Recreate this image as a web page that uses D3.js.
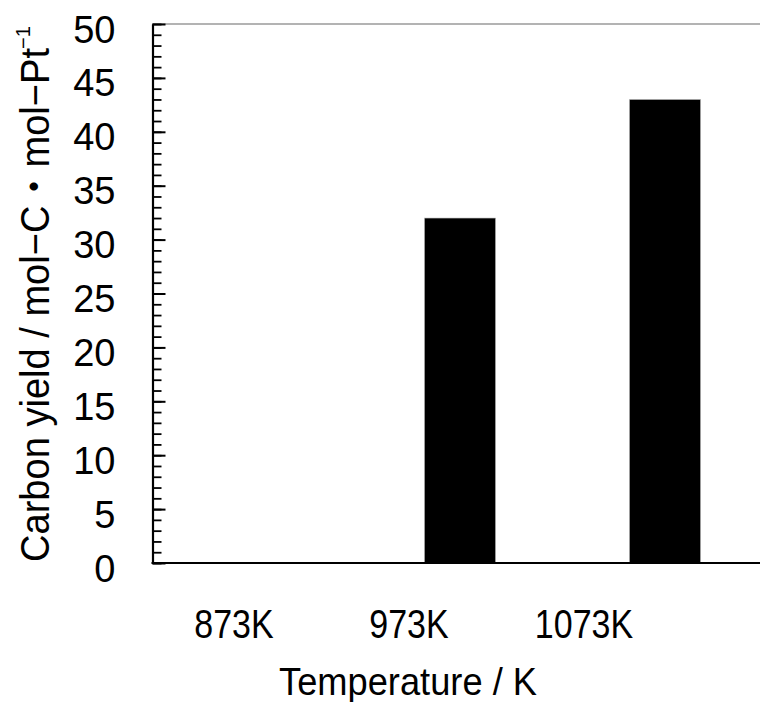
<!DOCTYPE html>
<html>
<head>
<meta charset="utf-8">
<script src="https://cdn.jsdelivr.net/npm/d3@7"></script>
<style>
  html, body { margin: 0; padding: 0; background: #fff; }
  svg { display: block; }
  text { font-family: "Liberation Sans", Arial, "Noto Sans CJK JP", sans-serif; fill: #000; }
</style>
</head>
<body>
<svg id="chart" width="760" height="702"></svg>
<script>
// Carbon yield per mol of Pt at each reaction temperature
const categories = ["873K", "973K", "1073K"];
const carbonYield = [0, 32, 43];
const yTicks = [0, 5, 10, 15, 20, 25, 30, 35, 40, 45, 50];
const yMinorTicks = d3.range(0, 51, 1);
const xTitle = "Temperature / K";
const yTitleMain = "Carbon yield / mol\u2212C\u30FBmol\u2212Pt";
const yTitleSup = "\u22121";

const svg = d3.select("#chart");
const plot = { left: 152.5, right: 767.5, top: 24, bottom: 563 };

const x = d3.scaleBand()
  .domain(categories)
  .range([plot.left, plot.right])
  .paddingInner(0.653)
  .paddingOuter(0.3265);

// category labels sit on their own evenly spaced positions
const xLabel = d3.scalePoint()
  .domain(categories)
  .range([234, 584]);

const y = d3.scaleLinear().domain([0, 50]).range([plot.bottom, plot.top]);

// frame top line
svg.append("line")
  .attr("x1", plot.left).attr("x2", 760)
  .attr("y1", y(50)).attr("y2", y(50))
  .attr("stroke", "#9a9a9a").attr("stroke-width", 1.3);

// bars
svg.append("g").selectAll("rect")
  .data(categories.map((c, i) => ({ c, v: carbonYield[i] })))
  .join("rect")
  .attr("x", d => x(d.c))
  .attr("width", x.bandwidth())
  .attr("y", d => y(d.v))
  .attr("height", d => y(0) - y(d.v))
  .attr("fill", "#000")
  .attr("stroke", "#bbb")
  .attr("stroke-width", 0.6);

// minor ticks
svg.append("g")
  .attr("transform", `translate(${plot.left},0)`)
  .call(d3.axisLeft(y).tickValues(yMinorTicks).tickSize(-9).tickFormat(""))
  .call(g => g.select(".domain").remove())
  .call(g => g.selectAll(".tick line").attr("stroke", "#000").attr("stroke-width", 1.8));

// major ticks, labels and axis line
const yAxis = svg.append("g")
  .attr("transform", `translate(${plot.left},0)`)
  .call(d3.axisLeft(y).tickValues(yTicks).tickSize(-13).tickSizeOuter(0).tickPadding(0));
yAxis.select(".domain").attr("stroke", "#000").attr("stroke-width", 2.2);
yAxis.selectAll(".tick line").attr("stroke", "#000").attr("stroke-width", 2);
yAxis.selectAll(".tick text")
  .attr("x", -37)
  .attr("dy", null)
  .attr("y", 18)
  .style("font-size", "38px")
  .style("font-family", "'Liberation Sans', Arial, sans-serif")
  .attr("fill", "#000");

// bottom axis line
svg.append("line")
  .attr("x1", plot.left - 1).attr("x2", 760)
  .attr("y1", y(0)).attr("y2", y(0))
  .attr("stroke", "#000").attr("stroke-width", 2.2);

// category labels
svg.append("g").selectAll("text")
  .data(categories)
  .join("text")
  .attr("transform", d => `translate(${xLabel(d)},638) scale(0.85,1)`)
  .attr("text-anchor", "middle")
  .style("font-size", "40px")
  .text(d => d);

// x axis title
svg.append("text")
  .attr("transform", "translate(408,695) scale(0.93,1)")
  .attr("text-anchor", "middle")
  .style("font-size", "39px")
  .text(xTitle);

// y axis title (main text plus superscript exponent)
svg.append("text")
  .attr("transform", "translate(49,562) rotate(-90)")
  .attr("textLength", 514)
  .attr("lengthAdjust", "spacingAndGlyphs")
  .style("font-size", "40px")
  .text(yTitleMain);
svg.append("text")
  .attr("transform", "translate(30,49) rotate(-90)")
  .style("font-size", "20px")
  .text(yTitleSup);
</script>
</body>
</html>
